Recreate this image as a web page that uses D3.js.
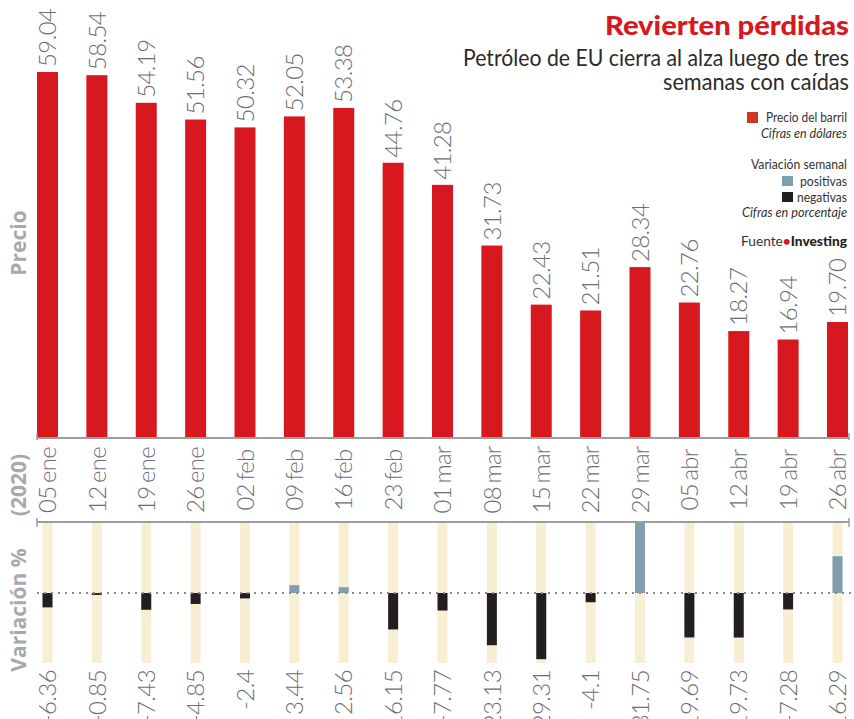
<!DOCTYPE html>
<html>
<head>
<meta charset="utf-8">
<script src="https://cdn.jsdelivr.net/npm/d3@7"></script>
<style>
  html, body { margin: 0; padding: 0; background: #fff; }
  svg { display: block; }
</style>
</head>
<body>
<svg id="chart" width="854" height="719"></svg>
<script>
const dates = ["05 ene","12 ene","19 ene","26 ene","02 feb","09 feb","16 feb","23 feb","01 mar","08 mar","15 mar","22 mar","29 mar","05 abr","12 abr","19 abr","26 abr"];
const prices = [59.04,58.54,54.19,51.56,50.32,52.05,53.38,44.76,41.28,31.73,22.43,21.51,28.34,22.76,18.27,16.94,19.70];
const changes = [-6.36,-0.85,-7.43,-4.85,-2.4,3.44,2.56,-16.15,-7.77,-23.13,-29.31,-4.1,31.75,-19.69,-19.73,-7.28,16.29];
const changeLabels = ["-6.36","-0.85","-7.43","-4.85","-2.4","3.44","2.56","-16.15","-7.77","-23.13","-29.31","-4.1","31.75","-19.69","-19.73","-7.28","16.29"];

const RED = "#d7191f", BLUE = "#7f9fae", BLACK = "#231f20", TRACK = "#f7eed4", GRAY = "#6d6e71", LGRAY = "#a7a9ac";
const numFont = "Lato, 'Open Sans', sans-serif";

const svg = d3.select("#chart");

const x = d3.scalePoint().domain(dates).range([47.5, 837.5]);
const y = d3.scaleLinear().domain([1.6, 59.04]).range([437, 72]);
const yv = d3.scaleLinear().domain([-31, 31]).range([663, 523]).clamp(true);

const barW = 21, trackW = 10;
const data = dates.map((d, i) => ({date: d, price: prices[i], change: changes[i], clabel: changeLabels[i]}));

// price bars
svg.append("g").selectAll("rect").data(data).join("rect")
  .attr("x", d => x(d.date) - barW / 2)
  .attr("y", d => y(d.price))
  .attr("width", barW)
  .attr("height", d => y.range()[0] - y(d.price))
  .attr("fill", RED);

// price labels
svg.append("g").selectAll("text").data(data).join("text")
  .attr("transform", d => `translate(${x(d.date)},${y(d.price) - 5}) rotate(-90)`)
  .attr("dy", "0.36em")
  .attr("text-anchor", "start")
  .attr("font-family", numFont)
  .attr("font-weight", 300)
  .attr("font-size", 24)
  .attr("letter-spacing", -0.6)
  .attr("fill", GRAY)
  .text(d => d3.format(".2f")(d.price));

// separator lines
function hline(yy, tickUp, tickDown) {
  svg.append("line").attr("x1", 37).attr("x2", 849).attr("y1", yy).attr("y2", yy)
    .attr("stroke", "#9d9d9d").attr("stroke-width", 2);
  [37, 849].forEach(xx => svg.append("line").attr("x1", xx).attr("x2", xx)
    .attr("y1", yy - tickUp).attr("y2", yy + tickDown).attr("stroke", "#9d9d9d").attr("stroke-width", 1.5));
}
hline(438, 5, 2);
hline(522, 4, 5);

// date labels
svg.append("g").selectAll("text").data(data).join("text")
  .attr("transform", d => `translate(${x(d.date)},480) rotate(-90)`)
  .attr("dy", "0.36em")
  .attr("text-anchor", "middle")
  .attr("font-family", numFont)
  .attr("font-weight", 300)
  .attr("font-size", 24)
  .attr("letter-spacing", -0.8)
  .attr("word-spacing", -2)
  .attr("fill", GRAY)
  .text(d => d.date);

// variation tracks
svg.append("g").selectAll("rect").data(data).join("rect")
  .attr("x", d => x(d.date) - trackW / 2)
  .attr("y", yv.range()[1])
  .attr("width", trackW)
  .attr("height", yv.range()[0] - yv.range()[1])
  .attr("fill", TRACK);

// variation bars
svg.append("g").selectAll("rect").data(data).join("rect")
  .attr("x", d => x(d.date) - trackW / 2)
  .attr("y", d => Math.min(yv(0), yv(d.change)))
  .attr("width", trackW)
  .attr("height", d => Math.abs(yv(d.change) - yv(0)))
  .attr("fill", d => d.change < 0 ? BLACK : BLUE);

// zero dotted line
svg.append("line").attr("x1", 37).attr("x2", 852).attr("y1", yv(0)).attr("y2", yv(0))
  .attr("stroke", "#8a8a8a").attr("stroke-width", 2).attr("stroke-dasharray", "2,5");

// variation labels
svg.append("g").selectAll("text").data(data).join("text")
  .attr("transform", d => `translate(${x(d.date)},670) rotate(-90)`)
  .attr("dy", "0.36em")
  .attr("text-anchor", "end")
  .attr("font-family", numFont)
  .attr("font-weight", 300)
  .attr("font-size", 24)
  .attr("letter-spacing", -0.6)
  .attr("fill", GRAY)
  .text(d => d.clabel);

// left side labels
[["Precio", 243], ["(2020)", 485], ["Variación %", 610]].forEach(([t, cy]) => {
  svg.append("text")
    .attr("transform", `translate(18,${cy}) rotate(-90)`)
    .attr("dy", "0.36em")
    .attr("text-anchor", "middle")
    .attr("font-family", "'Open Sans', sans-serif")
    .attr("font-weight", 700)
    .attr("font-size", 21)
    .attr("fill", LGRAY)
    .text(t);
});

// title
svg.append("text").attr("x", 849).attr("y", 35).attr("text-anchor", "end")
  .attr("font-family", "Lato, sans-serif").attr("font-weight", 900).attr("font-size", 27)
  .attr("fill", RED).attr("textLength", 244).attr("lengthAdjust", "spacingAndGlyphs")
  .text("Revierten pérdidas");
svg.append("text").attr("x", 849).attr("y", 66).attr("text-anchor", "end")
  .attr("font-family", "Lato, sans-serif").attr("font-weight", 400).attr("font-size", 23)
  .attr("fill", "#2b2b2b").attr("textLength", 386).attr("lengthAdjust", "spacingAndGlyphs")
  .text("Petróleo de EU cierra al alza luego de tres");
svg.append("text").attr("x", 849).attr("y", 90).attr("text-anchor", "end")
  .attr("font-family", "Lato, sans-serif").attr("font-weight", 400).attr("font-size", 23)
  .attr("fill", "#2b2b2b").attr("textLength", 186).attr("lengthAdjust", "spacingAndGlyphs")
  .text("semanas con caídas");

// legend
const lg = svg.append("g").attr("font-family", "Lato, sans-serif").attr("font-size", 13).attr("fill", "#333");
function ltext(t, yy, len, italic) {
  return lg.append("text").attr("x", 847).attr("y", yy).attr("text-anchor", "end")
    .attr("font-style", italic ? "italic" : "normal")
    .attr("textLength", len).attr("lengthAdjust", "spacingAndGlyphs").text(t);
}
lg.append("rect").attr("x", 747).attr("y", 112).attr("width", 11).attr("height", 11).attr("fill", "#d0361f");
ltext("Precio del barril", 122, 81, false);
ltext("Cifras en dólares", 138, 86, true);
ltext("Variación semanal", 169, 96, false);
lg.append("rect").attr("x", 782).attr("y", 176).attr("width", 11).attr("height", 10).attr("fill", BLUE);
ltext("positivas", 186, 47, false);
lg.append("rect").attr("x", 782).attr("y", 192).attr("width", 11).attr("height", 10).attr("fill", BLACK);
ltext("negativas", 202, 50, false);
ltext("Cifras en porcentaje", 217, 105, true);
const src = lg.append("text").attr("x", 847).attr("y", 246).attr("text-anchor", "end").attr("font-size", 14)
  .attr("textLength", 106).attr("lengthAdjust", "spacingAndGlyphs");
src.append("tspan").text("Fuente");
src.append("tspan").attr("fill", RED).attr("font-weight", 700).text("•");
src.append("tspan").attr("font-weight", 900).attr("fill", "#222").text("Investing");
</script>
</body>
</html>
